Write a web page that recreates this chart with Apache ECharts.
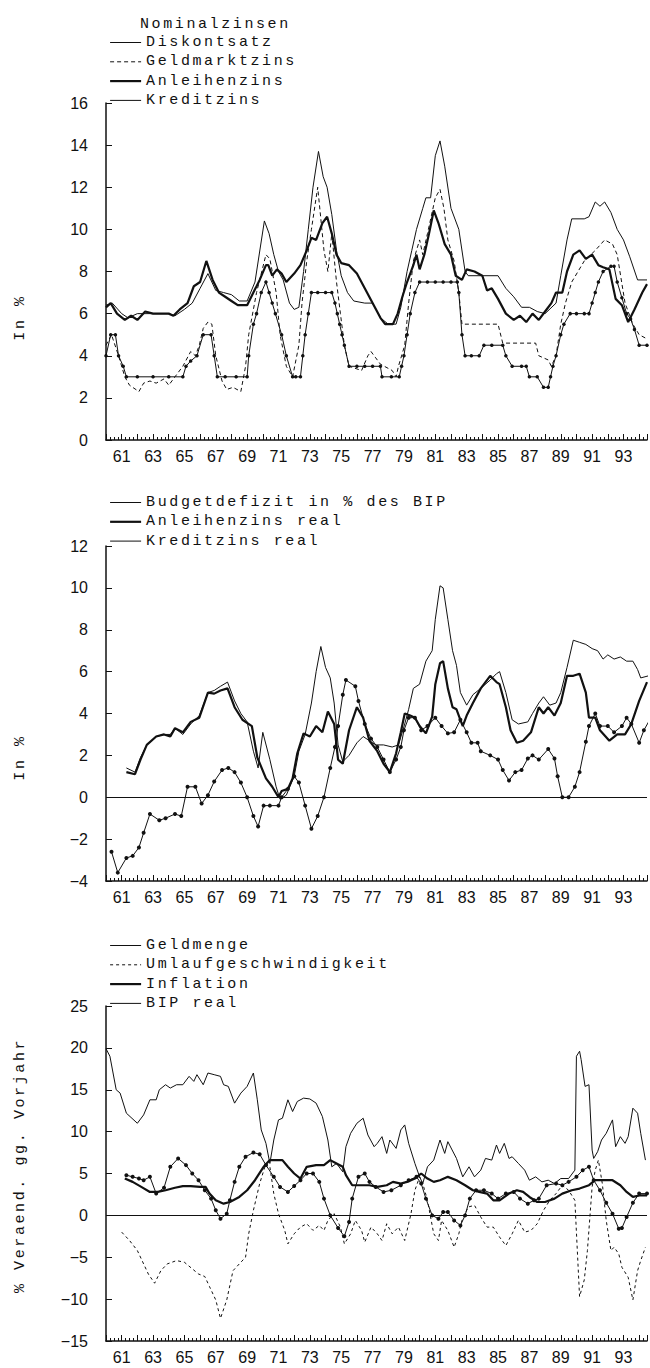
<!DOCTYPE html>
<html><head><meta charset="utf-8">
<script src="https://cdn.jsdelivr.net/npm/echarts@6/dist/echarts.min.js"></script>
<style>
html,body{margin:0;padding:0;background:#fff;}
#c{width:650px;height:1368px;}
#c text[style*="Liberation Mono"]{letter-spacing:2.6px;}
</style></head><body><div id="c"></div>
<script>
// ---------- Panel 1: Nominalzinsen (year, %) ----------
const diskontsatz = [[1960.0,4.0],[1960.3,5.0],[1960.6,5.0],[1960.8,4.0],[1961.1,3.5],[1961.3,3.0],[1962.0,3.0],[1963.0,3.0],[1964.0,3.0],[1964.9,3.0],[1965.1,3.5],[1965.4,3.75],[1965.8,4.0],[1966.2,5.0],[1966.7,5.0],[1966.9,4.0],[1967.1,3.0],[1967.6,3.0],[1968.3,3.0],[1969.0,3.0],[1969.1,4.0],[1969.4,5.5],[1969.6,6.0],[1969.9,7.0],[1970.2,7.5],[1970.4,7.0],[1970.6,6.5],[1970.8,6.0],[1971.2,5.0],[1971.5,4.0],[1971.9,3.0],[1972.1,3.0],[1972.4,3.0],[1972.55,4.0],[1972.7,5.0],[1972.9,6.0],[1973.1,7.0],[1973.5,7.0],[1974.0,7.0],[1974.4,7.0],[1974.6,6.5],[1974.75,6.0],[1974.9,5.5],[1975.05,5.0],[1975.2,4.5],[1975.5,3.5],[1976.0,3.5],[1976.5,3.5],[1977.0,3.5],[1977.5,3.5],[1977.6,3.0],[1978.2,3.0],[1978.7,3.0],[1978.85,3.5],[1979.0,4.0],[1979.2,5.0],[1979.4,6.0],[1979.7,7.0],[1980.0,7.5],[1980.5,7.5],[1981.0,7.5],[1981.5,7.5],[1982.0,7.5],[1982.4,7.5],[1982.5,7.0],[1982.7,5.0],[1982.9,4.0],[1983.3,4.0],[1983.8,4.0],[1984.1,4.5],[1984.6,4.5],[1985.3,4.5],[1985.5,4.0],[1985.9,3.5],[1986.5,3.5],[1986.8,3.5],[1987.0,3.0],[1987.5,3.0],[1987.9,2.5],[1988.2,2.5],[1988.35,3.0],[1988.5,3.5],[1988.7,4.0],[1989.0,5.0],[1989.2,5.5],[1989.6,6.0],[1990.0,6.0],[1990.5,6.0],[1990.8,6.0],[1991.0,6.5],[1991.2,7.0],[1991.4,7.5],[1991.7,8.0],[1992.2,8.25],[1992.4,8.25],[1992.6,7.5],[1992.9,6.75],[1993.2,6.0],[1993.45,5.75],[1993.7,5.25],[1994.0,4.5],[1994.5,4.5]];
const geldmarktzins = [[1960.0,4.5],[1960.35,5.0],[1960.8,4.0],[1961.2,3.0],[1961.5,2.6],[1962.1,2.3],[1962.4,2.7],[1962.8,2.8],[1963.2,2.7],[1963.7,2.9],[1964.0,2.6],[1964.4,3.0],[1964.9,3.5],[1965.4,4.2],[1965.7,4.0],[1965.95,4.5],[1966.2,5.3],[1966.5,5.6],[1966.75,5.5],[1967.0,4.0],[1967.4,2.8],[1967.7,2.4],[1968.1,2.5],[1968.6,2.3],[1968.9,3.5],[1969.1,5.0],[1969.6,7.0],[1970.2,8.8],[1970.45,8.6],[1970.85,7.0],[1971.1,5.0],[1971.5,3.5],[1971.9,3.0],[1972.3,4.5],[1972.5,6.5],[1972.8,8.5],[1973.1,10.0],[1973.5,12.0],[1973.9,9.0],[1974.15,8.0],[1974.4,9.8],[1974.7,7.5],[1974.95,6.0],[1975.2,4.5],[1975.5,3.5],[1976.3,3.3],[1976.7,4.0],[1976.9,4.2],[1977.2,3.9],[1977.5,3.6],[1978.25,3.3],[1978.5,3.0],[1978.65,3.5],[1979.05,4.5],[1979.3,6.5],[1979.6,8.5],[1980.0,9.5],[1980.2,8.8],[1980.5,9.8],[1981.0,11.5],[1981.3,11.9],[1981.55,11.0],[1981.8,9.5],[1982.2,8.5],[1982.5,7.0],[1982.7,5.5],[1983.4,5.5],[1984.5,5.5],[1985.0,5.5],[1985.3,4.6],[1987.4,4.6],[1987.6,4.0],[1988.2,3.8],[1988.4,3.5],[1988.7,4.0],[1989.0,5.5],[1989.3,6.5],[1989.7,7.5],[1990.5,8.5],[1991.2,9.0],[1991.8,9.5],[1992.3,9.3],[1992.6,8.8],[1993.1,6.5],[1993.6,5.5],[1994.0,5.0],[1994.5,4.8]];
const anleihenzins = [[1960.0,6.3],[1960.3,6.5],[1960.7,6.0],[1961.2,5.7],[1961.6,5.9],[1962.0,5.7],[1962.5,6.1],[1963.0,6.0],[1964.0,6.0],[1964.3,5.9],[1964.7,6.2],[1965.2,6.5],[1965.6,7.3],[1966.0,7.5],[1966.4,8.5],[1966.8,7.6],[1967.2,7.0],[1967.6,6.8],[1968.0,6.6],[1968.4,6.4],[1969.0,6.4],[1969.4,7.0],[1969.8,7.6],[1970.2,8.3],[1970.35,8.3],[1970.6,7.8],[1970.9,8.1],[1971.2,7.9],[1971.5,7.5],[1972.0,7.9],[1972.4,8.3],[1972.8,9.0],[1973.1,9.6],[1973.4,9.5],[1973.8,10.3],[1974.1,10.6],[1974.4,9.8],[1974.7,8.8],[1975.0,8.4],[1975.5,8.3],[1976.0,7.9],[1976.5,7.2],[1977.0,6.5],[1977.5,5.8],[1977.8,5.5],[1978.3,5.5],[1978.6,6.0],[1978.9,6.8],[1979.2,7.5],[1979.6,8.3],[1979.8,8.8],[1980.0,8.1],[1980.3,8.8],[1980.6,9.8],[1980.9,10.9],[1981.2,10.3],[1981.6,9.3],[1982.0,8.8],[1982.3,7.8],[1982.7,7.6],[1983.0,8.1],[1983.5,8.0],[1984.0,7.8],[1984.3,7.1],[1984.6,7.2],[1985.0,6.7],[1985.5,6.0],[1986.0,5.7],[1986.4,5.9],[1986.8,5.6],[1987.2,6.0],[1987.6,5.7],[1988.0,6.1],[1988.4,6.5],[1988.7,7.0],[1989.1,7.0],[1989.4,8.0],[1989.8,8.8],[1990.2,9.0],[1990.6,8.6],[1991.0,8.8],[1991.4,8.3],[1991.7,8.2],[1992.1,8.1],[1992.5,6.7],[1992.9,6.4],[1993.3,5.6],[1993.7,6.2],[1994.2,7.0],[1994.5,7.4]];
const kreditzins = [[1960.0,6.4],[1960.4,6.5],[1961.0,6.0],[1961.4,5.8],[1962.0,6.0],[1963.0,6.0],[1964.0,6.0],[1964.4,5.9],[1965.0,6.2],[1965.5,6.5],[1966.0,7.2],[1966.5,7.9],[1967.0,7.1],[1967.5,7.0],[1968.0,6.9],[1968.5,6.6],[1969.0,6.6],[1969.5,7.5],[1970.1,10.4],[1970.4,9.8],[1970.7,8.8],[1971.0,8.0],[1971.3,7.6],[1971.7,6.5],[1972.0,6.2],[1972.3,6.3],[1972.6,8.0],[1972.9,10.0],[1973.2,12.0],[1973.55,13.7],[1973.85,12.5],[1974.1,12.0],[1974.4,10.7],[1974.7,9.0],[1975.0,7.8],[1975.4,7.0],[1975.8,6.6],[1976.5,6.5],[1977.0,6.5],[1977.5,5.8],[1978.0,5.5],[1978.5,5.5],[1978.8,6.3],[1979.2,8.0],[1979.5,9.0],[1979.8,10.0],[1980.2,11.0],[1980.4,11.5],[1980.7,11.5],[1981.0,13.5],[1981.3,14.2],[1981.6,13.0],[1982.0,11.0],[1982.5,10.0],[1982.9,8.0],[1983.1,7.8],[1984.0,7.8],[1985.0,7.8],[1985.5,7.2],[1986.0,6.8],[1986.5,6.3],[1987.0,6.3],[1987.5,6.1],[1988.0,6.0],[1988.7,6.5],[1989.0,7.8],[1989.4,9.5],[1989.7,10.5],[1990.5,10.5],[1990.8,10.6],[1991.2,11.3],[1991.5,11.1],[1991.8,11.3],[1992.2,10.8],[1992.6,10.0],[1993.0,9.5],[1993.4,8.7],[1993.9,7.6],[1994.5,7.6]];

// ---------- Panel 2: real rates and budget deficit ----------
const budgetdefizit = [[1960.35,-2.6],[1960.75,-3.6],[1961.3,-2.9],[1961.7,-2.8],[1962.1,-2.4],[1962.4,-1.7],[1962.8,-0.8],[1963.4,-1.1],[1963.8,-1.0],[1964.4,-0.8],[1964.8,-0.9],[1965.2,0.5],[1965.7,0.5],[1966.1,-0.3],[1966.5,0.1],[1966.9,0.75],[1967.4,1.3],[1967.8,1.4],[1968.2,1.2],[1968.6,0.7],[1969.0,0.0],[1969.4,-0.9],[1969.7,-1.4],[1970.05,-0.4],[1970.45,-0.4],[1971.0,-0.4],[1971.2,0.0],[1971.6,0.4],[1972.0,1.0],[1972.3,0.7],[1972.7,-0.4],[1973.1,-1.5],[1973.5,-0.9],[1973.9,0.0],[1974.3,1.4],[1974.6,2.4],[1974.8,3.4],[1975.1,4.9],[1975.3,5.6],[1975.9,5.3],[1976.1,4.6],[1976.5,3.5],[1976.9,2.8],[1977.3,2.4],[1977.7,1.8],[1978.1,1.2],[1978.5,1.8],[1978.8,2.4],[1979.0,3.2],[1979.3,3.8],[1979.7,3.8],[1980.1,3.2],[1980.5,3.4],[1981.0,3.8],[1981.4,3.4],[1981.8,3.05],[1982.2,3.1],[1982.6,3.7],[1983.0,3.1],[1983.3,2.6],[1983.7,2.6],[1983.9,2.2],[1984.5,2.0],[1985.0,1.8],[1985.3,1.3],[1985.7,0.8],[1986.1,1.2],[1986.5,1.3],[1986.9,1.85],[1987.2,2.0],[1987.6,1.8],[1988.2,2.3],[1988.6,1.85],[1988.8,1.0],[1989.1,0.0],[1989.5,0.0],[1989.9,0.5],[1990.2,1.2],[1990.6,2.65],[1990.8,3.4],[1991.2,4.0],[1991.5,3.4],[1992.0,3.4],[1992.4,3.1],[1992.9,3.4],[1993.2,3.8],[1993.5,3.5],[1994.0,2.6],[1994.3,3.2],[1994.6,3.6]];
const anleihenzinsReal = [[1961.3,1.2],[1961.85,1.1],[1962.2,1.8],[1962.6,2.5],[1963.2,2.9],[1963.7,3.0],[1964.1,2.9],[1964.4,3.3],[1964.9,3.1],[1965.4,3.6],[1965.95,3.8],[1966.5,5.0],[1966.9,4.95],[1967.3,5.1],[1967.75,5.2],[1968.2,4.3],[1968.7,3.7],[1969.3,3.4],[1969.65,1.9],[1970.2,0.9],[1970.6,0.5],[1971.0,0.0],[1971.2,0.3],[1971.6,0.4],[1971.9,0.9],[1972.2,2.1],[1972.6,3.05],[1973.0,2.9],[1973.4,3.4],[1973.8,3.1],[1974.15,4.1],[1974.55,3.5],[1974.8,1.8],[1975.1,1.6],[1975.5,3.2],[1976.0,4.3],[1976.4,3.8],[1976.8,2.7],[1977.3,2.2],[1977.7,1.6],[1978.1,1.2],[1978.5,2.1],[1978.8,3.1],[1979.05,4.0],[1979.4,3.9],[1979.7,3.8],[1980.0,3.4],[1980.4,3.05],[1980.8,3.85],[1981.0,5.4],[1981.3,6.4],[1981.5,6.5],[1981.8,5.2],[1982.1,4.3],[1982.35,4.2],[1982.75,3.4],[1983.0,3.9],[1983.4,4.5],[1983.9,5.2],[1984.5,5.8],[1984.9,5.5],[1985.1,5.4],[1985.5,4.3],[1985.8,3.2],[1986.2,2.6],[1986.6,2.7],[1987.1,3.1],[1987.6,4.3],[1987.9,4.0],[1988.2,4.3],[1988.6,3.9],[1989.0,4.5],[1989.4,5.8],[1989.8,5.8],[1990.2,5.9],[1990.6,5.0],[1990.8,3.8],[1991.2,3.8],[1991.5,3.2],[1992.1,2.7],[1992.6,3.0],[1993.1,3.0],[1993.5,3.5],[1994.0,4.6],[1994.5,5.5]];
const kreditzinsReal = [[1961.3,1.4],[1961.85,1.2],[1962.2,1.9],[1962.6,2.5],[1963.2,2.9],[1963.7,3.0],[1964.1,3.0],[1964.4,3.3],[1964.9,3.0],[1965.4,3.5],[1965.95,3.9],[1966.5,5.0],[1966.9,5.1],[1967.3,5.3],[1967.75,5.5],[1968.2,4.6],[1968.6,4.0],[1969.0,3.6],[1969.4,2.2],[1969.7,1.4],[1970.0,3.1],[1970.45,1.8],[1970.85,0.5],[1971.1,-0.1],[1971.5,0.1],[1972.0,1.0],[1972.3,2.2],[1972.7,3.0],[1973.1,4.5],[1973.4,6.0],[1973.7,7.2],[1974.0,6.2],[1974.3,5.7],[1974.55,4.5],[1974.8,2.5],[1975.1,1.7],[1975.5,2.0],[1976.0,2.6],[1976.4,2.9],[1976.8,2.7],[1977.2,2.5],[1977.7,2.5],[1978.25,2.4],[1978.65,2.5],[1979.05,3.5],[1979.3,4.2],[1979.6,5.2],[1980.0,5.4],[1980.4,6.5],[1980.8,7.0],[1981.0,8.5],[1981.3,10.1],[1981.5,10.0],[1981.8,8.5],[1982.1,7.0],[1982.35,6.3],[1982.6,5.0],[1983.0,4.4],[1983.4,4.9],[1983.9,5.2],[1984.5,5.6],[1984.9,5.9],[1985.1,6.0],[1985.5,5.0],[1985.9,3.7],[1986.3,3.5],[1986.9,3.6],[1987.2,4.0],[1987.6,4.5],[1987.9,4.8],[1988.3,4.4],[1988.7,4.5],[1989.0,5.0],[1989.4,6.2],[1989.8,7.5],[1990.2,7.4],[1990.6,7.3],[1991.0,7.1],[1991.35,7.0],[1991.7,6.6],[1992.0,6.8],[1992.4,6.6],[1992.8,6.7],[1993.2,6.5],[1993.6,6.5],[1993.9,6.1],[1994.1,5.7],[1994.6,5.8]];

// ---------- Panel 3: % change vs previous year ----------
const geldmenge = [[1960.0,19.9],[1960.25,19.0],[1960.65,15.0],[1960.9,14.6],[1961.3,12.2],[1962.0,11.0],[1962.4,12.0],[1962.8,13.8],[1963.2,13.8],[1963.4,15.0],[1963.8,15.6],[1964.1,15.2],[1964.5,15.6],[1964.9,15.6],[1965.3,16.6],[1965.6,16.0],[1965.8,16.8],[1966.2,15.6],[1966.5,17.0],[1966.9,16.8],[1967.3,16.6],[1967.5,15.6],[1967.8,15.4],[1968.2,13.4],[1968.6,14.6],[1969.0,15.4],[1969.4,17.0],[1969.65,13.8],[1969.9,10.2],[1970.2,8.6],[1970.45,6.2],[1970.7,9.0],[1971.0,11.4],[1971.25,11.6],[1971.6,13.8],[1971.9,12.4],[1972.2,13.6],[1972.6,14.0],[1973.0,13.9],[1973.4,13.4],[1973.8,11.8],[1974.15,9.0],[1974.4,5.8],[1974.7,6.2],[1975.1,5.2],[1975.3,8.2],[1975.6,9.8],[1976.0,11.0],[1976.4,11.6],[1976.7,9.6],[1977.1,8.2],[1977.3,8.6],[1977.6,9.4],[1977.9,7.4],[1978.1,9.0],[1978.5,8.0],[1978.8,10.2],[1979.05,10.8],[1979.3,8.6],[1979.7,6.2],[1980.0,4.6],[1980.2,3.8],[1980.5,5.8],[1980.9,6.6],[1981.3,9.0],[1981.6,7.4],[1981.8,8.8],[1982.35,6.8],[1982.75,4.6],[1983.15,5.8],[1983.5,4.6],[1983.9,5.4],[1984.2,6.8],[1984.6,6.6],[1984.9,8.4],[1985.1,7.4],[1985.4,8.6],[1985.7,6.8],[1985.9,7.0],[1986.3,6.2],[1986.7,5.4],[1987.0,4.2],[1987.4,4.6],[1987.8,4.0],[1988.2,4.2],[1988.6,3.8],[1989.0,4.4],[1989.5,4.4],[1989.9,5.4],[1990.0,19.0],[1990.2,19.6],[1990.3,18.6],[1990.55,15.4],[1990.8,15.6],[1991.0,7.8],[1991.1,6.8],[1991.35,7.6],[1991.6,9.0],[1991.9,9.8],[1992.3,11.4],[1992.5,8.2],[1992.8,9.4],[1993.1,8.6],[1993.3,9.4],[1993.6,12.8],[1993.9,12.2],[1994.1,9.8],[1994.4,6.6]];
const umlaufgeschwindigkeit = [[1961.0,-2.0],[1961.5,-3.0],[1962.0,-4.2],[1962.3,-5.4],[1962.7,-7.0],[1963.1,-8.1],[1963.5,-6.6],[1963.9,-5.8],[1964.5,-5.4],[1965.0,-5.6],[1965.9,-7.0],[1966.3,-7.3],[1966.6,-8.5],[1967.0,-10.1],[1967.3,-12.3],[1967.7,-10.1],[1968.1,-6.6],[1968.5,-5.8],[1968.9,-5.0],[1969.1,-2.2],[1969.4,0.6],[1969.8,3.8],[1970.2,6.2],[1970.45,5.8],[1970.7,2.6],[1971.0,0.2],[1971.4,-1.8],[1971.6,-3.4],[1972.0,-2.2],[1972.4,-1.4],[1972.8,-1.0],[1973.2,-1.8],[1973.6,-1.2],[1973.9,-1.8],[1974.15,-0.6],[1974.55,0.2],[1974.95,-1.4],[1975.2,-3.4],[1975.6,-2.2],[1975.9,-0.6],[1976.3,-1.8],[1976.5,-3.2],[1976.9,-1.4],[1977.3,-2.2],[1977.6,-3.0],[1977.9,-1.0],[1978.25,-2.2],[1978.65,-1.4],[1979.05,-3.0],[1979.45,0.2],[1979.7,3.0],[1980.0,4.6],[1980.2,3.8],[1980.5,1.8],[1980.9,-2.2],[1981.2,-3.0],[1981.4,-0.6],[1981.8,-1.8],[1982.2,-3.8],[1982.5,-2.2],[1982.7,-0.6],[1983.1,1.0],[1983.5,1.2],[1983.9,-0.2],[1984.3,-1.4],[1984.7,-1.4],[1985.1,-2.6],[1985.5,-3.6],[1985.9,-2.2],[1986.3,-0.6],[1986.7,-2.0],[1987.1,-1.8],[1987.5,-1.0],[1987.9,0.6],[1988.3,1.8],[1988.7,2.6],[1989.1,3.6],[1989.5,3.0],[1989.9,1.8],[1990.2,-9.7],[1990.5,-7.7],[1990.7,-4.2],[1991.0,3.4],[1991.2,5.4],[1991.4,6.6],[1991.65,3.8],[1991.9,-0.6],[1992.2,-4.2],[1992.4,-3.8],[1992.7,-4.6],[1992.9,-6.2],[1993.3,-7.4],[1993.6,-10.1],[1993.9,-6.6],[1994.1,-5.4],[1994.4,-3.8]];
const inflation = [[1961.2,4.4],[1961.7,4.0],[1962.25,3.4],[1962.8,2.8],[1963.3,2.8],[1963.8,3.0],[1964.4,3.3],[1964.9,3.5],[1965.4,3.5],[1966.0,3.4],[1966.35,3.4],[1966.6,2.6],[1967.0,1.8],[1967.5,1.4],[1967.9,1.6],[1968.5,2.2],[1969.0,3.0],[1969.5,4.2],[1970.05,5.8],[1970.45,6.6],[1970.7,6.6],[1971.25,6.6],[1971.6,5.8],[1972.0,5.0],[1972.4,4.4],[1972.8,5.8],[1973.4,6.0],[1973.9,6.0],[1974.3,6.6],[1974.7,6.2],[1975.1,5.8],[1975.3,4.8],[1975.7,3.6],[1976.3,3.6],[1976.8,3.6],[1977.3,3.4],[1977.9,3.6],[1978.3,4.0],[1978.8,3.8],[1979.2,4.0],[1979.7,4.4],[1980.1,5.0],[1980.5,4.4],[1980.9,4.0],[1981.3,4.2],[1981.8,4.6],[1982.35,4.2],[1982.9,3.6],[1983.4,3.0],[1983.8,2.8],[1984.3,2.6],[1984.7,1.8],[1985.1,1.8],[1985.7,2.6],[1986.2,3.0],[1986.6,2.8],[1987.0,2.2],[1987.5,1.6],[1988.0,1.6],[1988.6,2.0],[1989.1,2.6],[1989.7,3.0],[1990.2,3.2],[1990.8,3.6],[1991.2,4.2],[1991.7,4.2],[1992.3,4.2],[1992.8,3.6],[1993.2,2.8],[1993.6,2.2],[1994.1,2.4],[1994.5,2.4]];
const bipReal = [[1961.3,4.8],[1961.7,4.6],[1962.1,4.4],[1962.4,4.2],[1962.8,4.6],[1963.2,2.6],[1963.7,3.3],[1964.1,5.8],[1964.6,6.8],[1965.1,6.0],[1965.5,5.0],[1965.9,4.2],[1966.3,3.0],[1966.7,2.0],[1967.0,0.6],[1967.3,-0.4],[1967.7,0.2],[1967.9,1.8],[1968.2,4.0],[1968.5,5.8],[1968.9,7.0],[1969.4,7.5],[1969.8,7.3],[1970.2,6.0],[1970.7,4.6],[1971.1,3.4],[1971.6,2.8],[1972.0,3.5],[1972.4,4.2],[1972.8,5.0],[1973.2,5.0],[1973.6,4.0],[1973.9,2.0],[1974.3,0.0],[1974.8,-1.5],[1975.2,-2.5],[1975.5,-0.8],[1975.7,2.0],[1976.1,4.6],[1976.5,5.0],[1976.8,4.0],[1977.2,3.4],[1977.7,2.8],[1978.2,3.0],[1978.8,3.6],[1979.3,4.2],[1979.8,4.6],[1980.1,3.8],[1980.4,2.0],[1980.8,0.0],[1981.2,-0.4],[1981.5,0.4],[1981.8,0.4],[1982.2,-0.6],[1982.6,-1.2],[1982.9,0.0],[1983.2,2.0],[1983.6,3.0],[1984.1,3.0],[1984.6,2.6],[1985.0,2.0],[1985.5,2.6],[1986.0,2.8],[1986.4,2.0],[1986.9,1.4],[1987.3,1.8],[1987.6,2.0],[1988.1,3.6],[1988.7,3.8],[1989.1,3.6],[1989.5,4.0],[1990.0,4.6],[1990.4,5.4],[1990.8,5.8],[1991.1,4.2],[1991.5,3.0],[1991.9,1.5],[1992.3,0.2],[1992.7,-1.6],[1992.9,-1.5],[1993.2,-0.2],[1993.6,1.5],[1994.0,2.6],[1994.5,2.6]];

// ---------- axis ticks ----------
const yTicks1 = {min: 0, max: 16, interval: 2};
const yTicks2 = {min: -4, max: 12, interval: 2};
const yTicks3 = {min: -15, max: 25, interval: 5};
const xTicks = {min: 1960, max: 1994.5, interval: 1};

const INK = '#111';
const monoFont = 'Liberation Mono';
const numFont = 'Liberation Sans';
const THIN = 1, THICK = 2.2;

function xAxisCfg(i) {
  return {
    type: 'value', gridIndex: i, min: xTicks.min, max: xTicks.max, interval: xTicks.interval,
    axisLine: {show: true, onZero: false, lineStyle: {color: INK, width: 1.5}},
    axisTick: {show: true, inside: true, length: 6, lineStyle: {color: INK, width: 1}},
    minorTick: {show: true, splitNumber: 4, length: 3, lineStyle: {color: INK, width: 1}},
    splitLine: {show: false}, minorSplitLine: {show: false},
    axisLabel: {
      color: INK, fontFamily: numFont, fontSize: 16, margin: 8,
      formatter: v => (Number.isInteger(v) && v % 2 === 1) ? String(v).slice(2) : ''
    }
  };
}
function yAxisCfg(i, t, name, pad) {
  return {
    type: 'value', gridIndex: i, min: t.min, max: t.max, interval: t.interval,
    axisLine: {show: true, lineStyle: {color: INK, width: 1.5}},
    axisTick: {show: true, inside: true, length: 6, lineStyle: {color: INK, width: 1}},
    splitLine: {show: false},
    axisLabel: {color: INK, fontFamily: numFont, fontSize: 16, margin: 18,
      formatter: v => String(v).replace('-', '\u2212')},
    name: name, nameLocation: 'middle', nameGap: 78, nameRotate: 90,
    nameTextStyle: {fontFamily: monoFont, fontSize: 15, color: INK, padding: pad}
  };
}
function line(name, data, xi, width, opts) {
  return Object.assign({
    name: name, type: 'line', xAxisIndex: xi, yAxisIndex: xi, data: data,
    symbol: 'none', showSymbol: false, color: INK,
    lineStyle: {color: INK, width: width, type: 'solid'},
    itemStyle: {color: INK}, animation: false, silent: true
  }, opts || {});
}
const dotted = (size) => ({symbol: 'circle', symbolSize: size, showSymbol: true});
const zeroLine = {markLine: {silent: true, symbol: 'none', label: {show: false},
  lineStyle: {color: INK, width: 1.2, type: 'solid'}, data: [{yAxis: 0}]}};

function legendItem(name, width, type) {
  return {name: name, lineStyle: {color: INK, width: width, type: type || 'solid'}};
}
function legendCfg(items, top) {
  return {
    data: items, orient: 'vertical', left: 104, top: top, itemWidth: 31, itemHeight: 14,
    itemGap: 4.3, selectedMode: false,
    itemStyle: {opacity: 0, color: 'rgba(0,0,0,0)', borderWidth: 0},
    textStyle: {fontFamily: monoFont, fontSize: 15, color: INK, lineHeight: 14}
  };
}

const chart = echarts.init(document.getElementById('c'), null, {renderer: 'svg'});
chart.setOption({
  backgroundColor: '#fff',
  animation: false,
  title: {text: 'Nominalzinsen', left: 135, top: 12,
    textStyle: {fontFamily: monoFont, fontSize: 15, fontWeight: 'normal', color: INK}},
  legend: [
    legendCfg([legendItem('Diskontsatz', THIN), legendItem('Geldmarktzins', THIN, [4, 3]),
      legendItem('Anleihenzins', THICK), legendItem('Kreditzins', THIN)], 30),
    legendCfg([legendItem('Budgetdefizit in % des BIP', THIN), legendItem('Anleihenzins real', THICK),
      legendItem('Kreditzins real', THIN)], 490),
    legendCfg([legendItem('Geldmenge', THIN), legendItem('Umlaufgeschwindigkeit', THIN, [3, 3]),
      legendItem('Inflation', THICK), legendItem('BIP real', THIN)], 933)
  ],
  grid: [
    {left: 106, top: 103, width: 541, height: 337},
    {left: 106, top: 546, width: 541, height: 335},
    {left: 106, top: 1006, width: 541, height: 335}
  ],
  xAxis: [xAxisCfg(0), xAxisCfg(1), xAxisCfg(2)],
  yAxis: [
    yAxisCfg(0, yTicks1, 'In %', [0, 92, 0, 0]),
    yAxisCfg(1, yTicks2, 'In %', [0, 88, 0, 0]),
    yAxisCfg(2, yTicks3, '% Veraend. gg. Vorjahr', [0, 0, 0, 16])
  ],
  series: [
    line('Diskontsatz', diskontsatz, 0, THIN, dotted(3.5)),
    line('Geldmarktzins', geldmarktzins, 0, THIN, {lineStyle: {color: INK, width: THIN, type: [4, 3]}}),
    line('Anleihenzins', anleihenzins, 0, THICK),
    line('Kreditzins', kreditzins, 0, THIN),
    line('Budgetdefizit in % des BIP', budgetdefizit, 1, THIN, Object.assign(dotted(4), zeroLine)),
    line('Anleihenzins real', anleihenzinsReal, 1, THICK),
    line('Kreditzins real', kreditzinsReal, 1, THIN),
    line('Geldmenge', geldmenge, 2, THIN),
    line('Umlaufgeschwindigkeit', umlaufgeschwindigkeit, 2, THIN, Object.assign({lineStyle: {color: INK, width: THIN, type: [3, 3]}}, zeroLine)),
    line('Inflation', inflation, 2, THICK),
    line('BIP real', bipReal, 2, THIN, dotted(4))
  ]
});
</script></body></html>
